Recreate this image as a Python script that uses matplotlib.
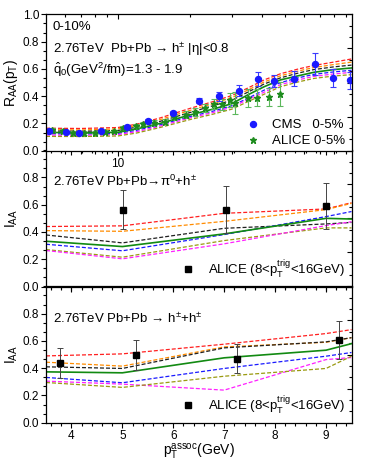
import numpy as np
import matplotlib
matplotlib.use('Agg')
import matplotlib.pyplot as plt
from matplotlib.ticker import AutoMinorLocator, FixedLocator, NullFormatter, FixedFormatter
from matplotlib.lines import Line2D

plt.rcParams['font.family'] = ['Liberation Sans', 'DejaVu Sans']
plt.rcParams['mathtext.fontset'] = 'custom'
plt.rcParams['mathtext.rm'] = 'Liberation Sans'
plt.rcParams['mathtext.it'] = 'Liberation Sans:italic'
plt.rcParams['mathtext.bf'] = 'Liberation Sans:bold'

# ---------------- top panel: R_AA(pT) ----------------
cms_pt = [5.16, 6.05, 6.88, 8.48, 10.95, 13.3, 17.0, 21.9, 26.6, 32.2, 38.5, 45.1, 54.7, 66.9, 79.7, 94.0]
cms_r = [0.147, 0.136, 0.133, 0.147, 0.177, 0.221, 0.276, 0.368, 0.398, 0.44, 0.526, 0.514, 0.528, 0.639, 0.531, 0.516]
cms_err = [0.01, 0.01, 0.01, 0.01, 0.01, 0.012, 0.015, 0.02, 0.03, 0.04, 0.05, 0.045, 0.055, 0.08, 0.065, 0.06]

alice_pt = [5.3, 5.9, 6.5, 7.2, 8.0, 8.8, 9.6, 10.5, 11.9, 12.7, 14.2, 15.7, 17.2, 19.2,
            21.1, 23.2, 25.2, 27.3, 29.5, 31.0, 35.2, 38.2, 42.7, 47.8]
alice_r = [0.152, 0.145, 0.132, 0.130, 0.133, 0.138, 0.142, 0.165, 0.182, 0.194, 0.206, 0.214, 0.246, 0.263,
           0.283, 0.312, 0.344, 0.342, 0.374, 0.349, 0.386, 0.39, 0.393, 0.415]
alice_err = [0.012, 0.012, 0.012, 0.012, 0.012, 0.012, 0.012, 0.013, 0.014, 0.015, 0.017, 0.02, 0.02, 0.025,
             0.03, 0.03, 0.035, 0.04, 0.05, 0.08, 0.065, 0.06, 0.065, 0.09]

th_pt = [5, 7, 10, 12, 15, 20, 25, 30, 35, 41, 48, 57, 66, 80, 95]
raa_red = [0.165, 0.163, 0.17, 0.195, 0.24, 0.31, 0.36, 0.405, 0.46, 0.52, 0.565, 0.60, 0.625, 0.65, 0.673]
raa_orange = [0.155, 0.152, 0.16, 0.185, 0.228, 0.295, 0.345, 0.39, 0.445, 0.505, 0.55, 0.585, 0.61, 0.632, 0.65]
raa_black = [0.145, 0.142, 0.148, 0.173, 0.215, 0.28, 0.33, 0.37, 0.43, 0.49, 0.535, 0.57, 0.595, 0.615, 0.628]
raa_green = [0.135, 0.130, 0.135, 0.160, 0.200, 0.262, 0.305, 0.345, 0.41, 0.47, 0.52, 0.55, 0.575, 0.595, 0.607]
raa_blue = [0.125, 0.122, 0.127, 0.15, 0.19, 0.25, 0.29, 0.33, 0.385, 0.445, 0.5, 0.535, 0.56, 0.578, 0.59]
raa_magenta = [0.115, 0.113, 0.118, 0.14, 0.18, 0.24, 0.28, 0.32, 0.375, 0.43, 0.485, 0.52, 0.545, 0.563, 0.575]
raa_olive = [0.105, 0.104, 0.108, 0.13, 0.17, 0.228, 0.268, 0.305, 0.36, 0.415, 0.47, 0.505, 0.53, 0.548, 0.558]

# ---------------- middle panel: pi0-h I_AA ----------------
pih_pt = [5.02, 7.03, 9.0]
pih_iaa = [0.564, 0.564, 0.593]
pih_err = [0.145, 0.17, 0.17]

iaa_pt = [3.5, 5, 7, 9, 9.5]
pih_red = [0.44, 0.445, 0.537, 0.569, 0.615]
pih_orange = [0.41, 0.405, 0.478, 0.564, 0.61]
pih_black = [0.378, 0.32, 0.427, 0.459, 0.47]
pih_green = [0.332, 0.293, 0.386, 0.50, 0.495]
pih_blue = [0.31, 0.262, 0.381, 0.513, 0.55]
pih_olive = [0.271, 0.215, 0.337, 0.43, 0.43]
pih_magenta = [0.264, 0.203, 0.313, 0.447, 0.475]

# ---------------- bottom panel: h-h I_AA ----------------
hh_pt = [3.775, 5.27, 7.26, 9.26]
hh_iaa = [0.439, 0.495, 0.471, 0.605]
hh_err = [0.112, 0.11, 0.11, 0.14]

hh_red = [0.49, 0.505, 0.576, 0.654, 0.683]
hh_orange = [0.444, 0.415, 0.556, 0.59, 0.624]
hh_black = [0.41, 0.398, 0.549, 0.593, 0.624]
hh_green = [0.373, 0.366, 0.476, 0.532, 0.58]
hh_blue = [0.332, 0.293, 0.398, 0.488, 0.515]
hh_magenta = [0.305, 0.283, 0.239, 0.463, 0.478]
hh_olive = [0.295, 0.259, 0.341, 0.398, 0.488]

RED, ORANGE, BLACK, GREEN = '#ff2020', '#ff8c00', '#202020', '#128a12'
BLUE, MAGENTA, OLIVE = '#1a1aff', '#ff20ff', '#9a9a10'
dash = (3.2, 1.6)
legend_label = r'ALICE (8<p$_\mathrm{T}^\mathrm{trig}$<16GeV)'

fig = plt.figure(figsize=(3.74, 4.65), dpi=100)
L, W = 46 / 374, 305.5 / 374
H = 136.3 / 465
ax1 = fig.add_axes([L, 1 - 150.7 / 465, W, H])
ax2 = fig.add_axes([L, 1 - 286.5 / 465, W, H])
ax3 = fig.add_axes([L, 1 - 422.7 / 465, W, H])
for ax in (ax2, ax3):
    ax.patch.set_visible(False)
ax1.set_zorder(3)


def dashed(ax, x, y, c):
    ax.plot(x, y, color=c, lw=0.9, dashes=dash)


def style(ax):
    for s in ax.spines.values():
        s.set_linewidth(0.9)
    ax.tick_params(which='both', direction='out', width=0.8, labelsize=8.5, pad=1.5,
                   top=False, right=False)
    ax.tick_params(which='major', length=3.5)
    ax.tick_params(which='minor', length=2.2)
    sx = ax.secondary_xaxis('top')
    sy = ax.secondary_yaxis('right')
    for sa in (sx, sy):
        sa.tick_params(which='both', direction='in', width=0.8, labelleft=False, labelright=False,
                       labeltop=False, labelbottom=False)
        sa.tick_params(which='major', length=3.5)
        sa.tick_params(which='minor', length=2.2)
        for s in sa.spines.values():
            s.set_visible(False)
    return sx, sy


# top panel
for y, c in [(raa_red, RED), (raa_orange, ORANGE), (raa_black, BLACK), (raa_blue, BLUE),
             (raa_magenta, MAGENTA), (raa_olive, OLIVE)]:
    dashed(ax1, th_pt, y, c)
ax1.plot(th_pt, raa_green, color=GREEN, lw=1.2)
ax1.errorbar(alice_pt, alice_r, yerr=alice_err, fmt='none', ecolor='#5cb85c', elinewidth=0.8,
             capsize=2, capthick=0.8)
ax1.plot(alice_pt, alice_r, ls='none', marker='*', ms=5, color='#1e8c1e')
ax1.errorbar(cms_pt, cms_r, yerr=cms_err, fmt='o', ms=4.3, color='#1a1aff', ecolor='#3a3aff',
             elinewidth=0.8, capsize=2, capthick=0.8)
ax1.set_xscale('log')
ax1.set_xlim(5, 95)
ax1.set_ylim(0, 1.0)
ax1.set_yticks([0, 0.2, 0.4, 0.6, 0.8, 1.0])
ax1.yaxis.set_minor_locator(AutoMinorLocator(3))
sx1, sy1 = style(ax1)
ax1.xaxis.set_major_locator(FixedLocator([10, 100]))
ax1.xaxis.set_major_formatter(FixedFormatter(['10', '100']))
ax1.xaxis.set_minor_locator(FixedLocator([6, 7, 8, 9, 20, 30, 40, 50, 60, 70, 80, 90]))
ax1.xaxis.set_minor_formatter(NullFormatter())
sx1.xaxis.set_major_locator(FixedLocator([10, 100]))
sx1.xaxis.set_minor_locator(FixedLocator([6, 7, 8, 9, 20, 30, 40, 50, 60, 70, 80, 90]))
sx1.xaxis.set_minor_formatter(NullFormatter())
sy1.yaxis.set_minor_locator(AutoMinorLocator(3))
ax1.set_ylabel(r'R$_\mathrm{AA}$(p$_\mathrm{T}$)', fontsize=10, labelpad=2)
ax1.text(0.022, 0.905, '0-10%', transform=ax1.transAxes, fontsize=9.5, va='center')
ax1.text(0.022, 0.742, '2.76TeV  Pb+Pb → h$^{\\pm}$ |η|<0.8', transform=ax1.transAxes,
         fontsize=9.5, va='center')
ax1.text(0.022, 0.595, r'$\hat{\mathrm{q}}_\mathrm{0}$(GeV$^\mathrm{2}$/fm)=1.3 - 1.9',
         transform=ax1.transAxes, fontsize=9.5, va='center')
h_cms = Line2D([], [], ls='none', marker='o', ms=4.3, color='#1a1aff')
h_al = Line2D([], [], ls='none', marker='*', ms=5, color='#1e8c1e')
ax1.legend([h_cms, h_al], ['CMS   0-5%', 'ALICE 0-5%'], loc='lower right', frameon=False,
           fontsize=9.5, handlelength=1.2, handletextpad=0.9, labelspacing=0.3,
           borderaxespad=0.05, bbox_to_anchor=(1.0, -0.02))

# middle panel
for y, c in [(pih_red, RED), (pih_orange, ORANGE), (pih_black, BLACK), (pih_blue, BLUE),
             (pih_olive, OLIVE), (pih_magenta, MAGENTA)]:
    dashed(ax2, iaa_pt, y, c)
ax2.plot(iaa_pt, pih_green, color=GREEN, lw=1.2)
ax2.errorbar(pih_pt, pih_iaa, yerr=pih_err, fmt='s', ms=4, color='black', ecolor='#444444',
             elinewidth=0.7, capsize=2, capthick=0.7)
ax2.set_xlim(3.5, 9.5)
ax2.set_ylim(0, 1.0)
ax2.set_yticks([0, 0.2, 0.4, 0.6, 0.8])
ax2.set_xticks([4, 5, 6, 7, 8, 9])
ax2.xaxis.set_minor_locator(AutoMinorLocator(5))
ax2.yaxis.set_minor_locator(AutoMinorLocator(3))
sx2, sy2 = style(ax2)
sx2.set_xticks([4, 5, 6, 7, 8, 9])
sx2.xaxis.set_minor_locator(AutoMinorLocator(5))
sy2.yaxis.set_minor_locator(AutoMinorLocator(3))
ax2.tick_params(labelbottom=False)
ax2.set_ylabel(r'I$_\mathrm{AA}$', fontsize=10, labelpad=2)
ax2.text(0.022, 0.771, '2.76TeV Pb+Pb→π$^\\mathrm{0}$+h$^{\\pm}$', transform=ax2.transAxes,
         fontsize=9.5, va='center')
h_sq = Line2D([], [], ls='none', marker='s', ms=4, color='black')
ax2.legend([h_sq], [legend_label], loc='lower right', frameon=False,
           fontsize=9.5, handlelength=1.0, handletextpad=1.0, borderaxespad=0.1,
           bbox_to_anchor=(1.0, 0.0))

# bottom panel
for y, c in [(hh_red, RED), (hh_orange, ORANGE), (hh_black, BLACK), (hh_blue, BLUE),
             (hh_magenta, MAGENTA), (hh_olive, OLIVE)]:
    dashed(ax3, iaa_pt, y, c)
ax3.plot(iaa_pt, hh_green, color=GREEN, lw=1.2)
ax3.errorbar(hh_pt, hh_iaa, yerr=hh_err, fmt='s', ms=4, color='black', ecolor='#444444',
             elinewidth=0.7, capsize=2, capthick=0.7)
ax3.set_xlim(3.5, 9.5)
ax3.set_ylim(0, 1.0)
ax3.set_yticks([0, 0.2, 0.4, 0.6, 0.8])
ax3.set_xticks([4, 5, 6, 7, 8, 9])
ax3.xaxis.set_minor_locator(AutoMinorLocator(5))
ax3.yaxis.set_minor_locator(AutoMinorLocator(3))
sx3, sy3 = style(ax3)
sx3.set_xticks([4, 5, 6, 7, 8, 9])
sx3.xaxis.set_minor_locator(AutoMinorLocator(5))
sy3.yaxis.set_minor_locator(AutoMinorLocator(3))
ax3.set_ylabel(r'I$_\mathrm{AA}$', fontsize=10, labelpad=2)
ax3.set_xlabel(r'p$_\mathrm{T}^\mathrm{assoc}$(GeV)', fontsize=10, labelpad=0)
ax3.text(0.022, 0.764, '2.76TeV Pb+Pb → h$^{\\pm}$+h$^{\\pm}$', transform=ax3.transAxes,
         fontsize=9.5, va='center')
ax3.legend([h_sq], [legend_label], loc='lower right', frameon=False,
           fontsize=9.5, handlelength=1.0, handletextpad=1.0, borderaxespad=0.1,
           bbox_to_anchor=(1.0, 0.0))

fig.savefig('out.png', dpi=100)
